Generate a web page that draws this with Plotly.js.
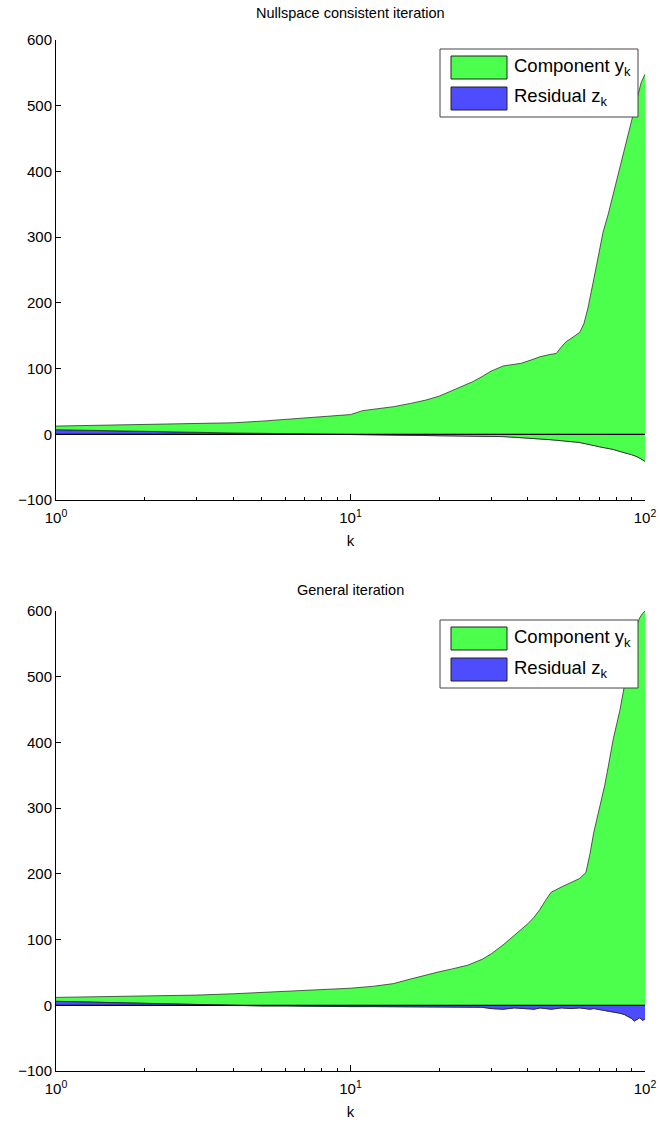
<!DOCTYPE html>
<html><head><meta charset="utf-8">
<script src="https://cdn.plot.ly/plotly-3.0.1.min.js"></script>
<style>body{margin:0;background:#fff}#chart{width:660px;height:1130px}</style>
</head><body><div id="chart"></div>
<script>
// ---- data ----
const k1 = [1,2,3,4,5,6,7,8,9,10,11,12,14,16,18,20,22,24,26,28,30,33,36,38,41,44,47,50,52,54,57,60,62,64,67,70,72,75,78,82,86,90,94,97,100];
const component1 = [5.5,10.5,13,15.5,18.5,21.5,23.5,25.5,27,29.7,36,38,42.5,48,53,59.5,67.5,76,82,90.5,99,107.5,110.5,113,119,125,129,132,143,151.5,159.5,167.5,181.5,206.5,253,299,327,356,388,431,468,506,544,573,589];
const residual1 = [7,4,3,2,1.5,1,1,0.5,0.5,0.3,0,0,-0.5,-1,-1,-1.5,-1.5,-2,-2,-2.5,-3,-3.5,-4.5,-5,-6,-7,-8,-9,-10,-10.5,-11.5,-12.5,-13.5,-14.5,-17,-19,-20,-21,-23,-26,-28,-31,-34,-38,-41];

const k2 = [1,2,3,4,5,6,7,8,9,10,12,14,16,18,20,22,25,28,30,33,36,40,42,44,46,48,52,56,60,63,65,67,70,73,75,78,82,85,88,90,92,94,96,98,100];
const component2 = [6,10.5,14.5,18,20.5,22,24,25,26.5,28,31,35,42,48.5,53.5,58,64,73,83,98,110,129,140,150,165,178,184,192,197,207,236,268,307,343,372,415,459,500,542,565,591,601,609,619,621];
const residual2 = [6,3,1,-0.5,-1,-1,-1.5,-1.5,-2,-2,-2,-2,-2,-2.5,-2.5,-3,-3,-3,-5,-6,-4,-5,-6,-4,-5,-6,-4,-5,-4,-5,-6,-5,-7,-8,-9,-10,-12,-14,-17,-20,-24,-21,-19,-23,-21];

const xTickVals = [1,10,100];
const xTickText = ['10<sup>0</sup>','10<sup>1</sup>','10<sup>2</sup>'];
const xMinorVals = [2,3,4,5,6,7,8,9,20,30,40,50,60,70,80,90];
const yTickVals = [-100,0,100,200,300,400,500,600];
const titles = ['Nullspace consistent iteration','General iteration'];
const legendLabels = ['Component y<sub>k</sub>','Residual z<sub>k</sub>'];
const xLabel = 'k';

// ---- styles ----
const GREEN = '#4dff4d', BLUE = '#4d4dff', EDGE = '#1a1a1a';
const FONT = 'Liberation Sans, Arial, Helvetica, sans-serif';
const W = 660, H = 1130, ML = 56, MR = 15;
const PW = W - ML - MR;
const px2x = p => (p - ML) / PW;
const py2y = p => 1 - p / H;

const stackTop = (a, b) => a.map((v, i) => v + b[i]);

function fillTraces(k, comp, resid, xa, ya, blueOnTop) {
  const top = stackTop(comp, resid);
  const edge = {color: EDGE, width: 0.7};
  const blue = {x: k, y: resid, xaxis: xa, yaxis: ya, mode: 'lines', line: edge,
    fill: 'tozeroy', fillcolor: BLUE, showlegend: false, hoverinfo: 'skip'};
  const base = {x: k, y: resid, xaxis: xa, yaxis: ya, mode: 'lines', line: edge,
    showlegend: false, hoverinfo: 'skip'};
  const green = {x: k, y: top, xaxis: xa, yaxis: ya, mode: 'lines', line: edge,
    fill: 'tonexty', fillcolor: GREEN, showlegend: false, hoverinfo: 'skip'};
  return blueOnTop ? [base, green, blue] : [blue, base, green];
}

const data = [
  ...fillTraces(k1, component1, residual1, 'x', 'y', false),
  ...fillTraces(k2, component2, residual2, 'x2', 'y2', true)
];

function xaxisDef(anchor) {
  return {
    anchor: anchor, domain: [0, 1], type: 'log', range: [0, 2],
    tickmode: 'array', tickvals: xTickVals, ticktext: xTickText,
    ticks: 'inside', ticklen: 6, tickcolor: '#000', tickwidth: 1, ticklabelstandoff: 4,
    minor: {tickmode: 'array', tickvals: xMinorVals, ticks: 'inside', ticklen: 3, tickcolor: '#000', showgrid: false},
    showline: true, linecolor: '#000', linewidth: 1, showgrid: false, zeroline: false,
    tickfont: {family: FONT, size: 15, color: '#000'},
    title: {text: xLabel, font: {family: FONT, size: 15, color: '#000'}, standoff: 10}
  };
}
function yaxisDef(anchor, top, bottom) {
  return {
    anchor: anchor, domain: [py2y(bottom), py2y(top)], range: [-100, 600],
    tickmode: 'array', tickvals: yTickVals,
    ticks: 'inside', ticklen: 5, tickcolor: '#000', tickwidth: 1,
    showline: true, linecolor: '#000', linewidth: 1, showgrid: false, zeroline: false,
    tickfont: {family: FONT, size: 15, color: '#000'}
  };
}

const shapes = [];
const annotations = [];
function panelExtras(yref, offset, titleY, title) {
  shapes.push({type: 'line', xref: 'paper', yref: yref, x0: 0, x1: 1, y0: 0, y1: 0,
    line: {color: '#000', width: 1.2}, layer: 'above'});
  // legend box
  shapes.push({type: 'rect', xref: 'paper', yref: 'paper',
    x0: px2x(440), x1: px2x(638), y0: py2y(offset + 117), y1: py2y(offset + 49),
    fillcolor: '#fff', line: {color: '#444', width: 1}, layer: 'above'});
  const sw = [[56, 79, GREEN], [87, 110, BLUE]];
  sw.forEach((s, i) => {
    shapes.push({type: 'rect', xref: 'paper', yref: 'paper',
      x0: px2x(451), x1: px2x(507), y0: py2y(offset + s[1]), y1: py2y(offset + s[0]),
      fillcolor: s[2], line: {color: '#222', width: 1}, layer: 'above'});
    annotations.push({xref: 'paper', yref: 'paper', x: px2x(512), y: py2y(offset + (s[0] + s[1]) / 2 - 1),
      xanchor: 'left', yanchor: 'middle', showarrow: false, text: legendLabels[i],
      font: {family: FONT, size: 18.5, color: '#000'}});
  });
  annotations.push({xref: 'paper', yref: 'paper', x: 0.5, y: py2y(titleY), xanchor: 'center', yanchor: 'middle',
    showarrow: false, text: title, font: {family: FONT, size: 14.5, color: '#000'}});
}
panelExtras('y', 0, 13, titles[0]);
panelExtras('y2', 571, 590, titles[1]);

const layout = {
  width: W, height: H, margin: {l: ML, r: MR, t: 0, b: 0},
  paper_bgcolor: '#fff', plot_bgcolor: 'rgba(0,0,0,0)',
  showlegend: false,
  xaxis: xaxisDef('y'), yaxis: yaxisDef('x', 40, 500),
  xaxis2: xaxisDef('y2'), yaxis2: yaxisDef('x2', 611, 1071),
  shapes: shapes, annotations: annotations
};
Plotly.newPlot('chart', data, layout, {staticPlot: true});
</script></body></html>
